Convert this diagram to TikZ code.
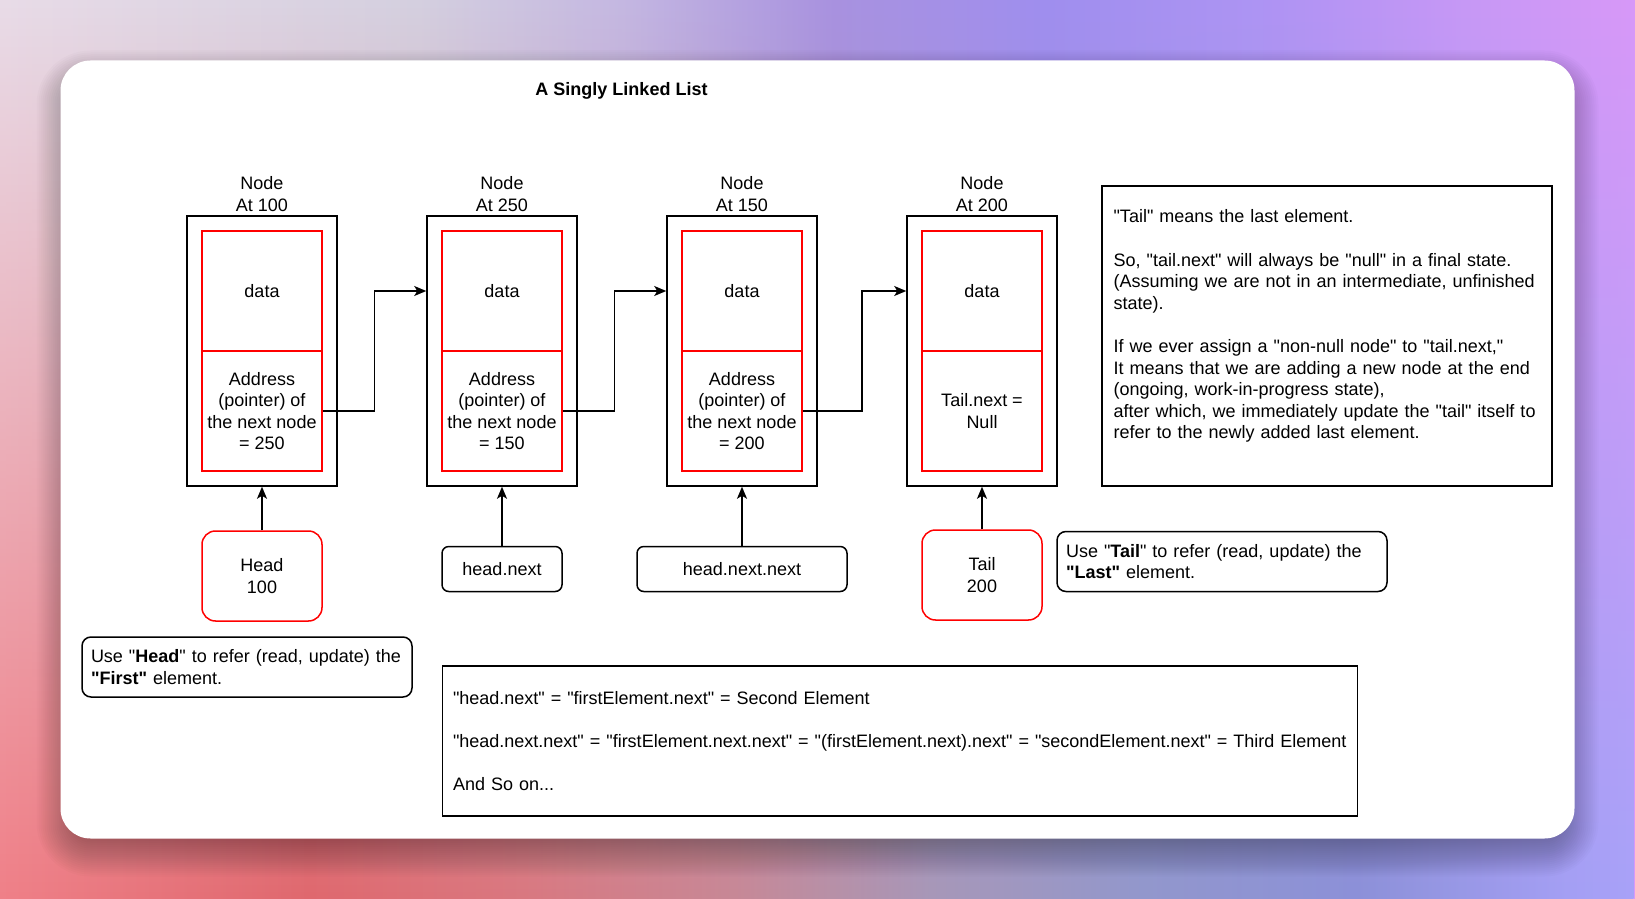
\documentclass[tikz,border=0pt]{standalone}
\usepackage{fontspec}
\setmainfont{Liberation Sans}[Ligatures=TeXOff]
\usetikzlibrary{positioning,calc,arrows.meta,fadings}

% backdrop colours
\definecolor{tA}{HTML}{E8DCE8}\definecolor{tB}{HTML}{D4D0E0}
\definecolor{tC}{HTML}{C4B8E2}\definecolor{tD}{HTML}{A892E0}
\definecolor{tE}{HTML}{A08EEF}\definecolor{tF}{HTML}{AE94F4}
\definecolor{tG}{HTML}{C698F6}\definecolor{tH}{HTML}{D898F8}
\definecolor{bA}{HTML}{F08088}\definecolor{bB}{HTML}{E0686E}
\definecolor{bC}{HTML}{DA7880}\definecolor{bD}{HTML}{C88896}
\definecolor{bE}{HTML}{A898B8}\definecolor{bF}{HTML}{9298CC}
\definecolor{bG}{HTML}{8C90D8}\definecolor{bH}{HTML}{A4A0F4}
\definecolor{bI}{HTML}{A8A2F8}

\pgfdeclarehorizontalshading{bgtop}{100bp}{color(0bp)=(tA); color(25bp)=(tA);
  color(37.75bp)=(tB); color(44bp)=(tC); color(50.5bp)=(tD); color(57bp)=(tE);
  color(63.5bp)=(tF); color(69.5bp)=(tG); color(75bp)=(tH); color(100bp)=(tH)}
\pgfdeclarehorizontalshading{bgbottom}{100bp}{color(0bp)=(bA); color(25bp)=(bA);
  color(34.5bp)=(bB); color(41bp)=(bC); color(47.5bp)=(bD); color(53.5bp)=(bE);
  color(60bp)=(bF); color(66.5bp)=(bG); color(73bp)=(bH); color(75bp)=(bI); color(100bp)=(bI)}
\tikzfading[name=fade up, top color=transparent!100, bottom color=transparent!0]

\begin{document}
\begin{tikzpicture}[x=0.5pt,y=-0.5pt,font=\fontsize{9}{10.8}\selectfont,line width=0.75pt,
  listnode/.style={draw,minimum width=75pt,minimum height=135pt},
  cell/.style={draw=red,minimum width=60pt,minimum height=60pt,align=center,inner sep=0pt},
  ptr/.style={draw,fill=white,rounded corners=3.4pt,minimum width=60pt,minimum height=22.5pt},
  refbox/.style={draw=red,fill=white,rounded corners=6.75pt,minimum width=60pt,minimum height=45pt,align=center},
  hint/.style={draw,rounded corners=4.5pt,text width=156pt,inner xsep=4.5pt,minimum height=30pt,align=left},
  link/.style={-{Stealth[length=6pt,width=5pt,inset=1.5pt]}}]
\useasboundingbox (0,0) rectangle (1635,899);
\shade[shading=bgtop] (0,0) rectangle (1635,899);
\shade[shading=bgbottom,path fading=fade up] (0,0) rectangle (1635,899);
% soft shadow under the card
\foreach \s in {-8,...,12}
  \fill[black,opacity=.014,rounded corners={15pt+\s pt}]
    ({60.5-2*\s},{74.5-2*\s}) rectangle ({1574.5+2*\s},{852.5+2*\s});
\fill[white,rounded corners=15pt] (60.5,60.5) rectangle (1574.5,838.5);

\node[font=\fontsize{9}{10.8}\selectfont\bfseries] (title) at (621.5,90.6) {A Singly Linked List};

% the four list nodes
\foreach \k/\where/\ptr in {1/100/{Address\\(pointer) of\\the next node\\= 250},
    2/250/{Address\\(pointer) of\\the next node\\= 150},
    3/150/{Address\\(pointer) of\\the next node\\= 200},
    4/200/{Tail.next =\\Null}}
{
  \node[listnode] (box\k) at ({22+240*\k},351) {};
  \node[cell] (data\k) at ({22+240*\k},291) {data};
  \node[cell] (addr\k) at ({22+240*\k},411) {\ptr};
  \node[align=center,above=-1.7pt of box\k] (cap\k) {Node\\At \where};
}
\foreach \k/\j/\bend in {1/2/.5,2/3/.5,3/4/.57}
  \draw[link] (addr\k.east) -| ($(addr\k.east)!\bend!(box\j.west)$) |- (box\j.west |- data\j);

% pointers
\node[refbox] (head) at (262,576) {Head\\100};
\node[ptr] (headnext) at (502,569) {head.next};
\node[ptr,minimum width=105pt] (headnextnext) at (742,569) {head.next.next};
\node[refbox] (tail) at (982,575) {Tail\\200};
\draw[link] (head) -- (box1);
\draw[link] (headnext) -- (box2);
\draw[link] (headnextnext) -- (box3);
\draw[link] (tail) -- (box4);

\node[hint] (headhint) at (247,667) {Use "\textbf{Head}" to refer (read, update) the\\\textbf{"First"} element.};
\node[hint] (tailhint) at (1222,561.5) {Use "\textbf{Tail}" to refer (read, update) the\\\textbf{"Last"} element.};

\node[draw,minimum width=457.5pt,minimum height=75pt,text width=447pt,inner xsep=5.25pt,align=left] (chain) at (900,741)
  {"head.next" = "firstElement.next" = Second Element\\[10.8pt]
   "head.next.next" = "firstElement.next.next" = "(firstElement.next).next" = "secondElement.next" = Third Element\\[10.8pt]
   And So on...};

\node[draw,minimum width=225pt,minimum height=150pt] (tailinfo) at (1327,336) {};
\node[anchor=base west,text width=214pt,align=left,inner sep=0pt] (tailtext)
  at ([xshift=5.8pt,yshift=-18.85pt]tailinfo.north west)
  {"Tail" means the last element.\\[10.8pt]
   So, "tail.next" will always be "null" in a final state.\\
   (Assuming we are not in an intermediate, unfinished\\
   state).\\[10.8pt]
   If we ever assign a "non-null node" to "tail.next,"\\
   It means that we are adding a new node at the end\\
   (ongoing, work-in-progress state),\\
   after which, we immediately update the "tail" itself to\\
   refer to the newly added last element.};
\end{tikzpicture}
\end{document}
